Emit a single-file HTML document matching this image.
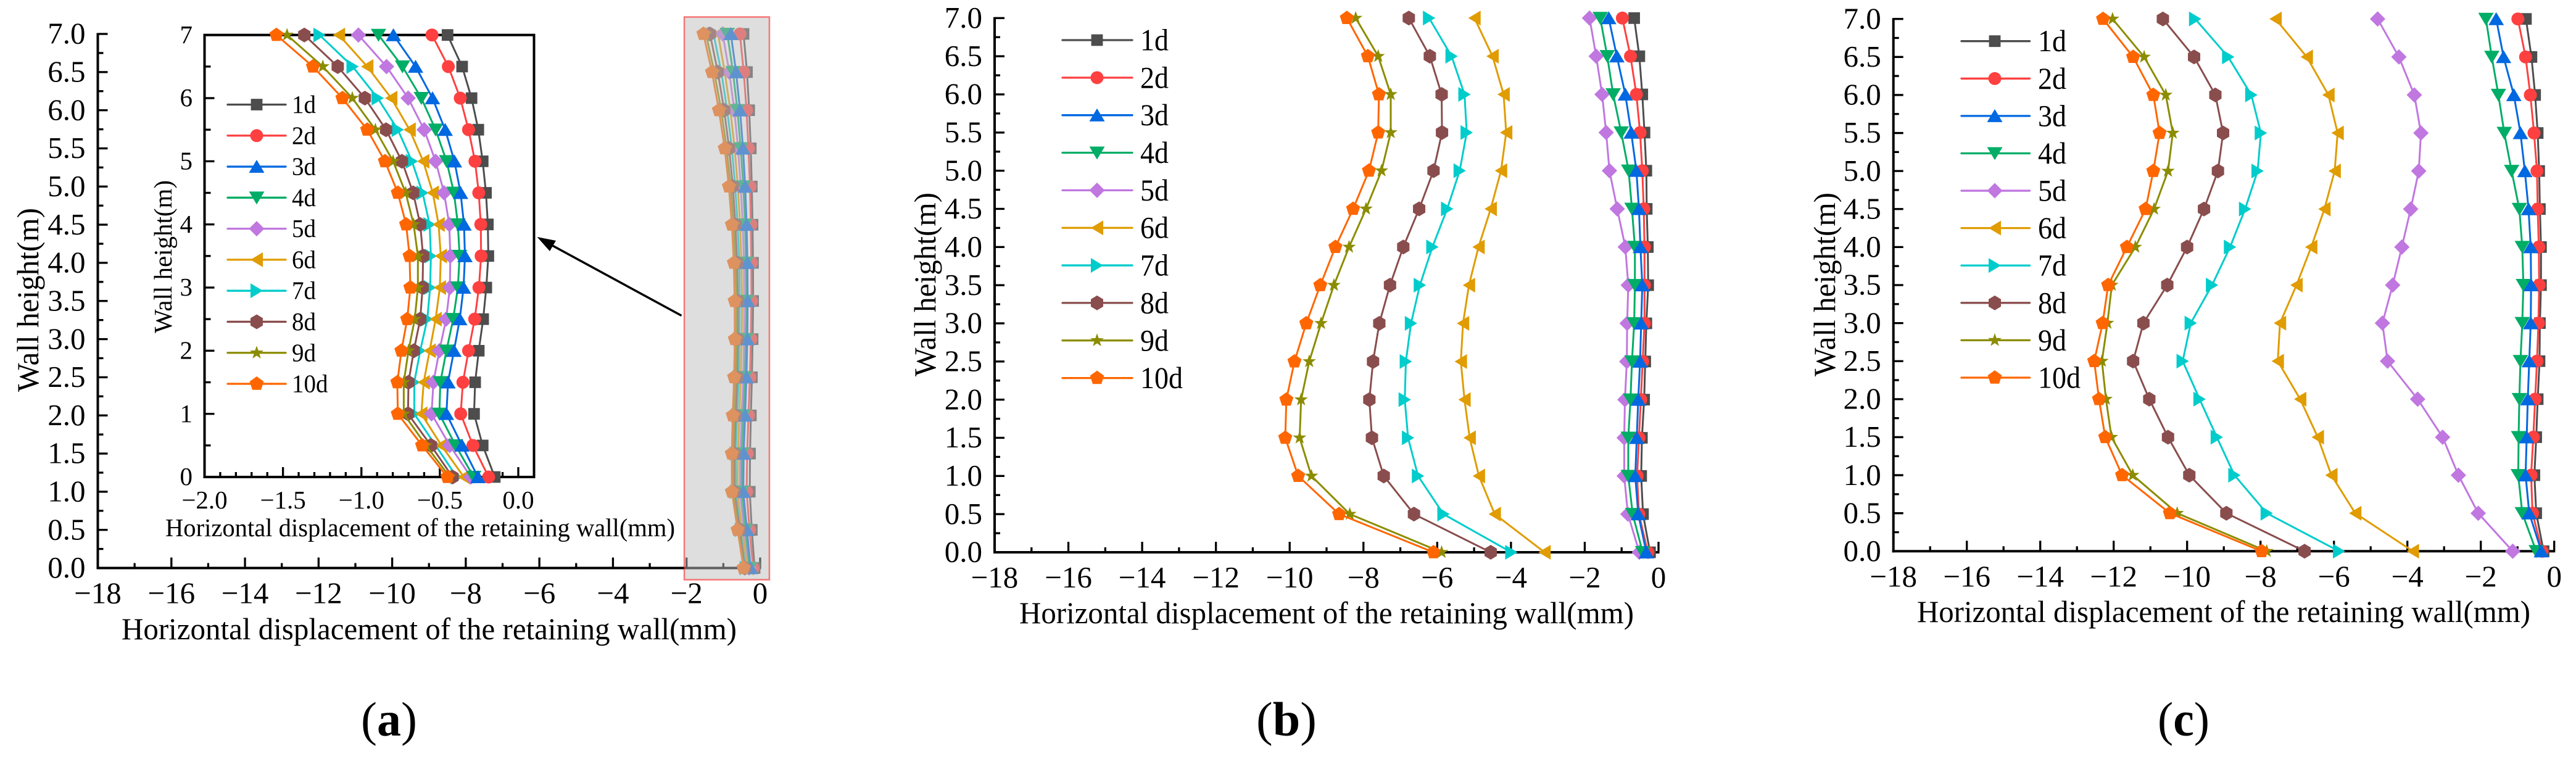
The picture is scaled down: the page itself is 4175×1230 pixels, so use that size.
<!DOCTYPE html>
<html lang="en">
<head>
<meta charset="utf-8">
<title>Horizontal displacement of the retaining wall</title>
<style>
html,body{margin:0;padding:0;background:#fff;width:4175px;height:1230px;overflow:hidden}
svg{display:block;font-family:"Liberation Serif",serif;fill:#000}
</style>
</head>
<body>
<svg id="figure" xmlns="http://www.w3.org/2000/svg" width="4175" height="1230" viewBox="0 0 4175 1230">
  <g id="panel-a"></g>
  <rect x="1109" y="27.5" width="138" height="912" fill="rgba(190,190,190,0.5)" stroke="rgba(255,0,0,0.5)" stroke-width="2.5"></rect>
  <g id="panel-a-inset"></g>
  <g id="panel-b"></g>
  <g id="panel-c"></g>

  <line x1="1104.5" y1="511.5" x2="888" y2="394" stroke="#000" stroke-width="3.5"></line>
  <polygon points="870.5,384 901,390 891,407" fill="#000"></polygon>

  <text transform="translate(62,635) rotate(-90)" font-size="50" textLength="298" lengthAdjust="spacingAndGlyphs">Wall height(m)</text>
  <text x="197" y="1036" font-size="50" textLength="997" lengthAdjust="spacingAndGlyphs">Horizontal displacement of the retaining wall(mm)</text>
  <text transform="translate(278,540) rotate(-90)" font-size="41" textLength="248" lengthAdjust="spacingAndGlyphs">Wall height(m)</text>
  <text x="268" y="869" font-size="41" textLength="826" lengthAdjust="spacingAndGlyphs">Horizontal displacement of the retaining wall(mm)</text>
  <text transform="translate(1516,610) rotate(-90)" font-size="50" textLength="298" lengthAdjust="spacingAndGlyphs">Wall height(m)</text>
  <text x="1652" y="1010" font-size="50" textLength="996" lengthAdjust="spacingAndGlyphs">Horizontal displacement of the retaining wall(mm)</text>
  <text transform="translate(2974,610) rotate(-90)" font-size="50" textLength="298" lengthAdjust="spacingAndGlyphs">Wall height(m)</text>
  <text x="3107" y="1008" font-size="50" textLength="994" lengthAdjust="spacingAndGlyphs">Horizontal displacement of the retaining wall(mm)</text>

  <text x="585" y="1192" font-size="78" textLength="91" lengthAdjust="spacingAndGlyphs">(<tspan font-weight="bold">a</tspan>)</text>
  <text x="2036" y="1192" font-size="78" textLength="98" lengthAdjust="spacingAndGlyphs">(<tspan font-weight="bold">b</tspan>)</text>
  <text x="3497" y="1192" font-size="78" textLength="84" lengthAdjust="spacingAndGlyphs">(<tspan font-weight="bold">c</tspan>)</text>
</svg>

<script>
/* ---------- categories and tick labels ---------- */
const heights = [7, 6.5, 6, 5.5, 5, 4.5, 4, 3.5, 3, 2.5, 2, 1.5, 1, 0.5, 0];
const seriesNames = ['1d', '2d', '3d', '4d', '5d', '6d', '7d', '8d', '9d', '10d'];
const xTickValues = [-18, -16, -14, -12, -10, -8, -6, -4, -2, 0];
const xTickLabels = ['\u221218', '\u221216', '\u221214', '\u221212', '\u221210', '\u22128', '\u22126', '\u22124', '\u22122', '0'];
const xMinorValues = [-17, -15, -13, -11, -9, -7, -5, -3, -1];
const yTickValues = [0, 0.5, 1, 1.5, 2, 2.5, 3, 3.5, 4, 4.5, 5, 5.5, 6, 6.5, 7];
const yTickLabels = ['0.0', '0.5', '1.0', '1.5', '2.0', '2.5', '3.0', '3.5', '4.0', '4.5', '5.0', '5.5', '6.0', '6.5', '7.0'];
const yMinorValues = [0.25, 0.75, 1.25, 1.75, 2.25, 2.75, 3.25, 3.75, 4.25, 4.75, 5.25, 5.75, 6.25, 6.75];
const insetXTickValues = [-2, -1.5, -1, -0.5, 0];
const insetXTickLabels = ['\u22122.0', '\u22121.5', '\u22121.0', '\u22120.5', '0.0'];
const insetXMinorValues = [-1.9, -1.8, -1.7, -1.6, -1.4, -1.3, -1.2, -1.1, -0.9, -0.8, -0.7, -0.6, -0.4, -0.3, -0.2, -0.1, 0.1];
const insetYTickValues = [0, 1, 2, 3, 4, 5, 6, 7];
const insetYTickLabels = ['0', '1', '2', '3', '4', '5', '6', '7'];
const insetYMinorValues = [0.5, 1.5, 2.5, 3.5, 4.5, 5.5, 6.5];

/* ---------- panel (a) values, mm, top of wall to bottom ---------- */
const a1d = [-0.451, -0.358, -0.298, -0.255, -0.227, -0.206, -0.194, -0.191, -0.204, -0.224, -0.252, -0.275, -0.282, -0.227, -0.150];
const a2d = [-0.55, -0.446, -0.37, -0.317, -0.276, -0.252, -0.239, -0.237, -0.251, -0.278, -0.317, -0.353, -0.367, -0.289, -0.189];
const a3d = [-0.796, -0.655, -0.547, -0.466, -0.407, -0.368, -0.346, -0.34, -0.349, -0.373, -0.41, -0.448, -0.458, -0.359, -0.257];
const a4d = [-0.891, -0.738, -0.618, -0.527, -0.457, -0.41, -0.385, -0.374, -0.385, -0.415, -0.458, -0.497, -0.503, -0.4, -0.284];
const a5d = [-1.019, -0.84, -0.702, -0.6, -0.527, -0.473, -0.44, -0.433, -0.436, -0.46, -0.503, -0.541, -0.553, -0.437, -0.302];
const a6d = [-1.143, -0.963, -0.81, -0.693, -0.606, -0.545, -0.508, -0.494, -0.5, -0.527, -0.565, -0.603, -0.618, -0.49, -0.347];
const a7d = [-1.267, -1.056, -0.896, -0.768, -0.678, -0.61, -0.565, -0.557, -0.562, -0.58, -0.625, -0.663, -0.663, -0.527, -0.392];
const a8d = [-1.364, -1.151, -0.978, -0.843, -0.742, -0.67, -0.625, -0.607, -0.61, -0.625, -0.666, -0.7, -0.703, -0.557, -0.419];
const a9d = [-1.474, -1.246, -1.058, -0.911, -0.798, -0.718, -0.667, -0.64, -0.64, -0.66, -0.7, -0.73, -0.73, -0.588, -0.437];
const a10d = [-1.542, -1.309, -1.121, -0.963, -0.85, -0.768, -0.715, -0.693, -0.688, -0.708, -0.745, -0.771, -0.768, -0.613, -0.452];

/* ---------- panel (b) values ---------- */
const b1d = [-0.66, -0.52, -0.44, -0.38, -0.33, -0.32, -0.29, -0.28, -0.33, -0.36, -0.39, -0.45, -0.47, -0.42, -0.23];
const b2d = [-0.98, -0.76, -0.60, -0.50, -0.44, -0.40, -0.38, -0.38, -0.38, -0.43, -0.48, -0.53, -0.58, -0.53, -0.29];
const b3d = [-1.35, -1.13, -0.90, -0.74, -0.60, -0.53, -0.49, -0.44, -0.47, -0.50, -0.55, -0.59, -0.63, -0.55, -0.33];
const b4d = [-1.58, -1.39, -1.23, -1.01, -0.81, -0.72, -0.64, -0.64, -0.66, -0.72, -0.76, -0.82, -0.82, -0.70, -0.43];
const b5d = [-1.87, -1.69, -1.53, -1.42, -1.33, -1.12, -0.90, -0.82, -0.85, -0.86, -0.91, -0.93, -0.93, -0.83, -0.52];
const b6d = [-4.99, -4.50, -4.20, -4.13, -4.27, -4.55, -4.88, -5.14, -5.30, -5.36, -5.26, -5.12, -4.87, -4.44, -3.09];
const b7d = [-6.22, -5.61, -5.26, -5.20, -5.39, -5.73, -6.13, -6.47, -6.71, -6.85, -6.88, -6.79, -6.52, -5.83, -3.99];
const b8d = [-6.77, -6.20, -5.88, -5.87, -6.10, -6.49, -6.92, -7.28, -7.57, -7.74, -7.84, -7.77, -7.45, -6.63, -4.55];
const b9d = [-8.21, -7.60, -7.26, -7.26, -7.51, -7.93, -8.39, -8.80, -9.15, -9.47, -9.69, -9.73, -9.41, -8.37, -5.88];
const b10d = [-8.45, -7.88, -7.58, -7.60, -7.85, -8.28, -8.76, -9.17, -9.55, -9.87, -10.09, -10.12, -9.77, -8.66, -6.10];

/* ---------- panel (c) values ---------- */
const c1d = [-0.77, -0.62, -0.52, -0.45, -0.41, -0.39, -0.36, -0.36, -0.39, -0.40, -0.45, -0.49, -0.54, -0.49, -0.29];
const c2d = [-0.99, -0.78, -0.65, -0.55, -0.47, -0.45, -0.42, -0.41, -0.43, -0.47, -0.52, -0.57, -0.63, -0.59, -0.33];
const c3d = [-1.58, -1.38, -1.10, -0.92, -0.80, -0.70, -0.64, -0.63, -0.64, -0.68, -0.72, -0.75, -0.78, -0.68, -0.35];
const c4d = [-1.86, -1.70, -1.52, -1.36, -1.16, -0.95, -0.87, -0.84, -0.87, -0.92, -0.95, -0.97, -0.98, -0.87, -0.49];
const c5d = [-4.81, -4.23, -3.81, -3.63, -3.69, -3.91, -4.15, -4.40, -4.68, -4.54, -3.72, -3.04, -2.61, -2.07, -1.13];
const c6d = [-7.59, -6.74, -6.15, -5.90, -5.98, -6.26, -6.62, -7.02, -7.47, -7.53, -6.92, -6.44, -6.07, -5.42, -3.85];
const c7d = [-9.78, -8.88, -8.25, -7.99, -8.08, -8.42, -8.83, -9.32, -9.90, -10.12, -9.66, -9.19, -8.71, -7.83, -5.86];
const c8d = [-10.66, -9.81, -9.23, -9.02, -9.16, -9.54, -10.00, -10.54, -11.19, -11.47, -11.03, -10.52, -9.94, -8.93, -6.80];
const c9d = [-12.03, -11.17, -10.58, -10.39, -10.52, -10.90, -11.41, -12.05, -12.17, -12.32, -12.21, -12.06, -11.48, -10.27, -7.83];
const c10d = [-12.29, -11.47, -10.92, -10.75, -10.92, -11.13, -11.64, -12.15, -12.30, -12.53, -12.40, -12.23, -11.77, -10.47, -7.97];

const aValues = [a1d, a2d, a3d, a4d, a5d, a6d, a7d, a8d, a9d, a10d];
const bValues = [b1d, b2d, b3d, b4d, b5d, b6d, b7d, b8d, b9d, b10d];
const cValues = [c1d, c2d, c3d, c4d, c5d, c6d, c7d, c8d, c9d, c10d];

/* ---------- helpers ---------- */
const NS = 'http://www.w3.org/2000/svg';
const seriesColors = ['#4d4d4d', '#ff4040', '#0068e0', '#00ad66', '#c077e0', '#e09c00', '#00cccc', '#8a4d4d', '#8c8c00', '#ff6600'];
const seriesShapes = ['square', 'circle', 'up', 'down', 'diamond', 'left', 'right', 'hexagon', 'star', 'pentagon'];
const paintOrder = [0, 1, 6, 5, 4, 3, 2, 7, 8, 9];

function svgEl(tag, attrs, parent) {
  const node = document.createElementNS(NS, tag);
  Object.keys(attrs).forEach(function (k) { node.setAttribute(k, attrs[k]); });
  parent.appendChild(node);
  return node;
}
function linear(d0, d1, r0, r1) {
  return function (v) { return r0 + (v - d0) * (r1 - r0) / (d1 - d0); };
}
function shapePoints(shape) {
  const pts = [];
  if (shape === 'square') return [[-9.4, -9.4], [9.4, -9.4], [9.4, 9.4], [-9.4, 9.4]];
  if (shape === 'up') return [[0, -11], [12.5, 10], [-12.5, 10]];
  if (shape === 'down') return [[0, 11], [12.5, -10], [-12.5, -10]];
  if (shape === 'diamond') return [[0, -12.5], [12.5, 0], [0, 12.5], [-12.5, 0]];
  if (shape === 'left') return [[-10, 0], [10, -12], [10, 12]];
  if (shape === 'right') return [[10, 0], [-10, -12], [-10, 12]];
  if (shape === 'hexagon') return [[0, -12], [10, -6], [10, 6], [0, 12], [-10, 6], [-10, -6]];
  if (shape === 'pentagon') {
    for (let k = 0; k < 5; k++) {
      const t = (-90 + 72 * k) * Math.PI / 180;
      pts.push([12 * Math.cos(t), 12 * Math.sin(t)]);
    }
    return pts;
  }
  for (let k = 0; k < 10; k++) {
    const t = (-90 + 36 * k) * Math.PI / 180;
    const r = k % 2 ? 4.6 : 11.5;
    pts.push([r * Math.cos(t), r * Math.sin(t)]);
  }
  return pts;
}
function drawMarker(parent, seriesIndex, cx, cy) {
  const shape = seriesShapes[seriesIndex];
  const color = seriesColors[seriesIndex];
  let mark;
  if (shape === 'circle') {
    mark = svgEl('circle', { cx: cx, cy: cy, r: 10.5, fill: color }, parent);
  } else {
    const p = shapePoints(shape).map(function (o) { return (cx + o[0]).toFixed(2) + ',' + (cy + o[1]).toFixed(2); }).join(' ');
    mark = svgEl('polygon', { points: p, fill: color }, parent);
  }
  return mark;
}
function drawSeries(parent, values, x, y) {
  paintOrder.forEach(function (i) {
    const name = seriesNames[i];
    const series = svgEl('g', {}, parent);
    
    
    const pts = values[i].map(function (v, j) { return x(v).toFixed(2) + ',' + y(heights[j]).toFixed(2); }).join(' ');
    const line = svgEl('polyline', { points: pts, fill: 'none', stroke: seriesColors[i], 'stroke-width': 3, 'stroke-linejoin': 'round' }, series);
    
    
    values[i].forEach(function (v, j) {
      const mark = drawMarker(series, i, x(v), y(heights[j]));
      
      
    });
  });
}
function drawXTicks(parent, values, x, yBase, len, labels, labelY, fontSize) {
  values.forEach(function (v, i) {
    const tick = svgEl('line', { x1: x(v), x2: x(v), y1: yBase, y2: yBase - len, stroke: '#000', 'stroke-width': 3.3 }, parent);
    
    
    if (labels) {
      const t = svgEl('text', { x: x(v), y: labelY, 'font-size': fontSize, 'text-anchor': 'middle' }, parent);
      t.textContent = labels[i];
      
      
    }
  });
}
function drawYTicks(parent, values, y, xBase, len, labels, labelX, fontSize) {
  values.forEach(function (v, i) {
    const tick = svgEl('line', { x1: xBase, x2: xBase + len, y1: y(v), y2: y(v), stroke: '#000', 'stroke-width': 3.3 }, parent);
    
    
    if (labels) {
      const t = svgEl('text', { x: labelX, y: y(v) + fontSize * 0.32, 'font-size': fontSize, 'text-anchor': 'end' }, parent);
      t.textContent = labels[i];
      
      
    }
  });
}
function drawLegend(parent, x1, x2, mx, tx, rows, fontSize, charWidth) {
  seriesNames.forEach(function (name, i) {
    const entry = svgEl('g', {}, parent);
    
    
    const sw = svgEl('line', { x1: x1, x2: x2, y1: rows(i), y2: rows(i), stroke: seriesColors[i], 'stroke-width': 3.3, 'stroke-linecap': 'round' }, entry);
    
    
    const mark = drawMarker(entry, i, mx, rows(i));
    
    
    const t = svgEl('text', { x: tx, y: rows(i) + fontSize * 0.33, 'font-size': fontSize, textLength: name.length * charWidth, lengthAdjust: 'spacingAndGlyphs' }, entry);
    t.textContent = name;
    
    
  });
}
function drawMainPanel(id, box, values, legend) {
  const g = document.getElementById(id);
  const x = linear(-18, 0, box.left, box.right);
  const y = linear(0, 7, box.bottom, box.top);
  drawYTicks(g, yMinorValues, y, box.left, 9);
  drawYTicks(g, yTickValues, y, box.left, 16, yTickLabels, box.left - 20, 49);
  drawXTicks(g, xMinorValues, x, box.bottom, 8);
  drawXTicks(g, xTickValues, x, box.bottom, 17, xTickLabels, box.bottom + 57, 49);
  const sy = svgEl('line', { x1: box.left, x2: box.left, y1: box.top - 1.5, y2: box.bottom + 2, stroke: '#000', 'stroke-width': 4 }, g);
  
  
  const sx = svgEl('line', { x1: box.left - 2, x2: box.right + 1.5, y1: box.bottom, y2: box.bottom, stroke: '#000', 'stroke-width': 4 }, g);
  
  
  if (legend) drawLegend(g, legend.x1, legend.x2, legend.mx, legend.tx, linear(0, 9, legend.r0, legend.r9), 50, 23);
  drawSeries(g, values, x, y);
}

/* ---------- panels ---------- */
drawMainPanel('panel-a', { left: 158.5, right: 1232, top: 55, bottom: 920.5 }, aValues, null);
drawMainPanel('panel-b', { left: 1612, right: 2688, top: 29.3, bottom: 895 }, bValues, { x1: 1722, x2: 1835, mx: 1778, tx: 1848, r0: 65, r9: 612.6 });
drawMainPanel('panel-c', { left: 3068.7, right: 4139.7, top: 30.7, bottom: 893.3 }, cValues, { x1: 3179, x2: 3289.5, mx: 3233, tx: 3303, r0: 66.7, r9: 612 });

(function drawInset() {
  const g = document.getElementById('panel-a-inset');
  const x = linear(-2, 0, 331.5, 840);
  const y = linear(0, 7, 773, 56.7);
  const frame = svgEl('rect', { x: 331.5, y: 56.7, width: 534, height: 716.3, fill: 'none', stroke: '#000', 'stroke-width': 4 }, g);
  
  
  drawYTicks(g, insetYMinorValues, y, 331.5, 10);
  drawYTicks(g, insetYTickValues, y, 331.5, 16, insetYTickLabels, 312, 41);
  drawXTicks(g, insetXMinorValues, x, 773, 8);
  drawXTicks(g, insetXTickValues, x, 773, 16, insetXTickLabels, 824, 41);
  drawLegend(g, 369, 463, 416, 473, linear(0, 9, 169.5, 622), 41, 19.5);
  drawSeries(g, aValues, x, y);
})();
</script>
</body>
</html>
